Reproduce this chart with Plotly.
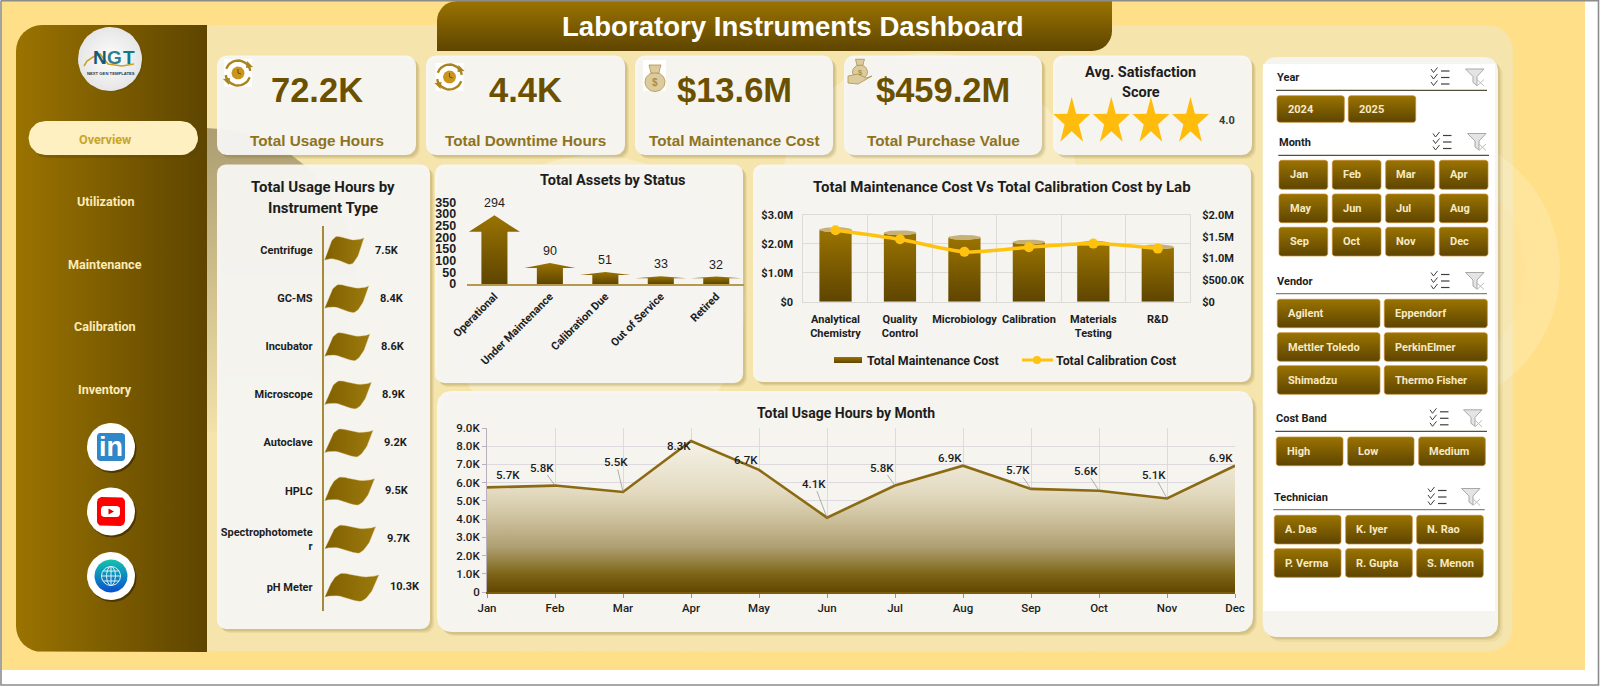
import math
import plotly.graph_objects as go

# ---- data ----
instrument_types = ["Centrifuge", "GC-MS", "Incubator", "Microscope", "Autoclave", "HPLC",
                    "Spectrophotomete<br>r", "pH Meter"]
usage_by_type = [7500, 8400, 8600, 8900, 9200, 9500, 9700, 10300]

asset_status = ["Operational", "Under Maintenance", "Calibration Due", "Out of Service", "Retired"]
asset_counts = [294, 90, 51, 33, 32]

labs = ["Analytical<br>Chemistry", "Quality<br>Control", "Microbiology", "Calibration",
        "Materials<br>Testing", "R&D"]
maintenance_cost = [2580000, 2470000, 2310000, 2150000, 2110000, 1980000]
calibration_cost = [1650000, 1440000, 1150000, 1255000, 1340000, 1225000]

months = ["Jan", "Feb", "Mar", "Apr", "May", "Jun", "Jul", "Aug", "Sep", "Oct", "Nov", "Dec"]
monthly_usage = [5740, 5840, 5490, 8290, 6700, 4080, 5840, 6930, 5660, 5560, 5130, 6930]

kpi_values = ["72.2K", "4.4K", "$13.6M", "$459.2M"]
kpi_names = ["Total Usage Hours", "Total Downtime Hours", "Total Maintenance Cost", "Total Purchase Value"]
satisfaction_score = 4.0

nav_items = ["Overview", "Utilization", "Maintenance", "Calibration", "Inventory"]
slicer_years = ["2024", "2025"]
slicer_vendors = ["Agilent", "Eppendorf", "Mettler Toledo", "PerkinElmer", "Shimadzu", "Thermo Fisher"]
slicer_bands = ["High", "Low", "Medium"]
slicer_techs = ["A. Das", "K. Iyer", "N. Rao", "P. Verma", "R. Gupta", "S. Menon"]

# ---- styling ----
W, H = 1600, 686
GOLD_TOP, GOLD_BOT = "#9A7300", "#5E4500"
SANS = "Roboto"
ARIAL = "Liberation Sans"
CARD = "rgba(247,247,244,0.95)"
INK = "#1d1d1d"
GRID = "#DCDBD6"

fig = go.Figure()
notes = []


def xdom(a, b):
    return [a / W, b / W]


def ydom(top, bottom):
    return [1 - bottom / H, 1 - top / H]


def rounded(x0, y0, x1, y1, r, corners=(1, 1, 1, 1)):
    """Outline of a rectangle; corners are top-left, top-right, bottom-right, bottom-left."""
    rad = [r * c for c in corners]
    centres = [(x0 + rad[0], y0 + rad[0], 180), (x1 - rad[1], y0 + rad[1], 270),
               (x1 - rad[2], y1 - rad[2], 0), (x0 + rad[3], y1 - rad[3], 90)]
    xs, ys = [], []
    for (cx, cy, start), rr in zip(centres, rad):
        steps = 8 if rr else 0
        for k in range(steps + 1):
            a = math.radians(start + 90 * k / max(steps, 1))
            xs.append(cx + rr * math.cos(a))
            ys.append(cy + rr * math.sin(a))
    return xs + xs[:1], ys + ys[:1]


def circle(cx, cy, r, ry=None, n=48):
    ry = r if ry is None else ry
    pts = [2 * math.pi * k / n for k in range(n + 1)]
    return [cx + r * math.cos(a) for a in pts], [cy + ry * math.sin(a) for a in pts]


def poly(xs, ys, color=None, grad=None, line=None, lw=0, axes=("x", "y"), name=None):
    spec = dict(x=xs, y=ys, mode="lines", fill="toself", hoverinfo="skip",
                line=dict(width=lw, color=line or "rgba(0,0,0,0)"), xaxis=axes[0], yaxis=axes[1])
    if grad:
        kind, c0, c1 = grad
        spec["fillgradient"] = dict(type=kind, colorscale=[[0, c0], [1, c1]])
        spec["fillcolor"] = "rgba(0,0,0,0)"
    else:
        spec["fillcolor"] = color
    if name:
        spec["name"] = name
    fig.add_trace(go.Scatter(**spec))


def stroke(xs, ys, color, lw=1.0):
    fig.add_trace(go.Scatter(x=xs, y=ys, mode="lines", hoverinfo="skip",
                             line=dict(width=lw, color=color), xaxis="x", yaxis="y"))


def text(x, y, s, size, color=INK, family=SANS, weight=700, anchor="center"):
    notes.append(dict(x=x, y=y, xref="x", yref="y", text=s, showarrow=False, xanchor=anchor,
                      yanchor="middle", borderpad=0, align=anchor,
                      font=dict(size=size, color=color, family=family, weight=weight)))


def soft_card(x0, y0, x1, y1, r=9, fill=CARD):
    for off, alpha in ((4, 0.07), (3, 0.09), (2, 0.12)):
        xs, ys = rounded(x0 + off, y0 + off, x1 + off, y1 + off, r)
        poly(xs, ys, f"rgba(120,95,30,{alpha})")
    xs, ys = rounded(x0, y0, x1, y1, r)
    poly(xs, ys, fill)


# ---- page background ----
poly([2, 1585, 1585, 2, 2], [1, 1, 670, 670, 1], "#FFDF87")
xs, ys = rounded(190, 25, 1513, 652, 26)
poly(xs, ys, "#F5E4AB")

# soft decorative discs behind the cards
xs, ys = circle(205, 280, 152, n=96)
poly(xs, ys, grad=("vertical", "rgba(85,75,45,0.02)", "rgba(85,75,45,0.46)"))
for cx, cy, r, col in ((595, 305, 150, "rgba(255,255,255,0.30)"),
                       (930, 205, 152, "rgba(255,255,255,0.28)"),
                       (1420, 270, 140, "rgba(255,255,255,0.18)"),
                       (1420, 270, 106, "rgba(255,223,135,0.12)")):
    xs, ys = circle(cx, cy, r, n=96)
    poly(xs, ys, col)

# ---- side navigation ----
xs, ys = rounded(16, 25, 207, 652, 26, (1, 0, 0, 1))
poly(xs, ys, grad=("horizontal", GOLD_TOP, GOLD_BOT))

xs, ys = circle(112, 60, 32)
poly(xs, ys, "rgba(90,70,10,0.25)")
xs, ys = circle(110, 59, 32)
poly(xs, ys, grad=("radial", "#FDFDFD", "#E6E6E6"))
stroke([84, 87, 93, 100, 108, 122, 134], [66, 61, 57, 54, 64, 66, 64], "#C9A227", 1.6)
for lx, letter, col in ((99.5, "N", "#145A78"), (114.5, "G", "#2F7F8F"), (128.5, "T", "#12798B")):
    text(lx, 57, letter, 19, col, ARIAL)
text(111, 73.5, "NEXT GEN TEMPLATES", 4.2, "#1F3A4D", ARIAL)

xs, ys = rounded(31, 123, 201, 158, 17)
poly(xs, ys, "rgba(90,70,10,0.35)")
xs, ys = rounded(28.5, 121, 198, 155, 17)
poly(xs, ys, "#FEF0C0")
for label, ny, col in zip(nav_items, (139, 201, 264, 326, 389),
                          ("#C8A42C", "#FBEBB8", "#FBEBB8", "#FBEBB8", "#FBEBB8")):
    text(105, ny, label, 12.6, col)

# social buttons
for cy in (447, 511.5, 576):
    xs, ys = circle(112.5, cy + 2, 24)
    poly(xs, ys, "rgba(40,28,0,0.55)")
    xs, ys = circle(111, cy, 24)
    poly(xs, ys, "#FFFFFF")
xs, ys = rounded(97, 433, 125, 461, 3)
poly(xs, ys, "#2F86C8")
text(111, 447, "in", 27, "#FFFFFF", ARIAL)
xs, ys = rounded(97, 497, 125, 526, 5)
poly(xs, ys, "#FF0000")
xs, ys = rounded(101, 506, 120, 517, 3)
poly(xs, ys, "#FFFFFF")
poly([108.5, 114, 108.5, 108.5], [508.5, 511.5, 514.5, 508.5], "#E00000")
xs, ys = circle(111, 576, 16.5)
poly(xs, ys, grad=("vertical", "#0A50CF", "#13C3AE"))
xs, ys = circle(111, 576, 9.5)
stroke(xs, ys, "#D9F3F5", 1)
xs, ys = circle(111, 576, 4.5, 9.5)
stroke(xs, ys, "#D9F3F5", 1)
stroke([111, 111], [566.5, 585.5], "#D9F3F5", 1)
stroke([101.5, 120.5], [576, 576], "#D9F3F5", 1)
stroke([103, 119], [571, 571], "#D9F3F5", 1)
stroke([103, 119], [581, 581], "#D9F3F5", 1)

# ---- title banner ----
xs, ys = rounded(437, 1, 1112, 51, 20, (1, 0, 1, 0))
poly(xs, ys, grad=("vertical", GOLD_BOT, GOLD_TOP))
text(793, 26, "Laboratory Instruments Dashboard", 27.6, "#FFFFFF", ARIAL)


# ---- KPI cards ----
def refresh_icon(cx, cy):
    poly([cx - 14, cx + 14, cx + 14, cx - 14, cx - 14], [cy - 14, cy - 14, cy + 14, cy + 14, cy - 14], "#FFFFFF")
    for start in (200, 20):
        pts = [math.radians(start + 150 * k / 16) for k in range(17)]
        stroke([cx + 12.5 * math.cos(a) for a in pts], [cy + 12.5 * math.sin(a) for a in pts], "#A9851F", 2.4)
    poly([cx + 9, cx + 15, cx + 8, cx + 9], [cy - 12, cy - 6, cy - 5, cy - 12], "#A9851F")
    poly([cx - 9, cx - 15, cx - 8, cx - 9], [cy + 12, cy + 6, cy + 5, cy + 12], "#A9851F")
    xs_, ys_ = circle(cx, cy, 6.5)
    poly(xs_, ys_, "#C8951E")
    stroke([cx, cx, cx + 3], [cy - 4, cy, cy + 1], "#6B4F00", 1)


def bag_icon(cx, cy, scale=1.0, fill="#DCCB9F"):
    xs_, ys_ = circle(cx, cy + 4 * scale, 10 * scale, 9.5 * scale)
    poly(xs_, ys_, fill, line="#AD9447", lw=0.8)
    poly([cx - 4 * scale, cx + 4 * scale, cx + 5 * scale, cx + 6 * scale, cx - 6 * scale, cx - 5 * scale, cx - 4 * scale],
         [cy - 5 * scale, cy - 5 * scale, cy - 10 * scale, cy - 13 * scale, cy - 13 * scale, cy - 10 * scale, cy - 5 * scale],
         fill, line="#AD9447", lw=0.8)
    text(cx, cy + 4 * scale, "$", 10 * scale, "#A88F4A", ARIAL)


card_bounds = [(217, 416), (426, 625), (635, 833), (844, 1042), (1053, 1252)]
for (x0, x1) in card_bounds:
    soft_card(x0, 55.5, x1, 155, 10)
for (x0, x1), value, name in zip(card_bounds, kpi_values, kpi_names):
    text((x0 + x1) / 2, 90, value, 34.5, "#6B5000", ARIAL)
    text((x0 + x1) / 2, 140, name, 15.3, "#8F7320", ARIAL)
refresh_icon(238, 73)
refresh_icon(449.5, 77)
poly([643, 666, 666, 643, 643], [60, 60, 91, 91, 60], "#FFFFFF")
bag_icon(655, 78)
bag_icon(860, 69, 0.75)
poly([848, 858, 866, 872, 858, 848, 848], [76, 74, 78, 76, 84, 83, 76], "#DCCB9F", line="#AD9447", lw=0.8)

text(1140.5, 72, "Avg. Satisfaction", 14.5)
text(1140.5, 92.5, "Score", 14.5)
star_xs, star_ys = [], []
for k in range(int(satisfaction_score)):
    cx, cy = 1071.7 + 39.6 * k, 121.6
    for j in range(11):
        r = 24.9 if j % 2 == 0 else 9.6
        a = math.radians(-90 + 36 * j)
        star_xs.append(cx + 0.78 * r * math.cos(a))
        star_ys.append(cy + r * math.sin(a))
    star_xs.append(None)
    star_ys.append(None)
poly(star_xs, star_ys, "#FFBC0D")
text(1226.5, 120, f"{satisfaction_score:.1f}", 11, "#3A3A3A")

# ---- chart cards ----
soft_card(217, 164.5, 430, 629, 9)
soft_card(435, 164.5, 743, 383, 9)
soft_card(753, 164.5, 1251, 382, 9)
soft_card(437, 391, 1253, 632, 14)

text(323, 187, "Total Usage Hours by", 15)
text(323, 208, "Instrument Type", 15)
text(612.5, 180, "Total Assets by Status", 14.5)
text(1002, 187, "Total Maintenance Cost Vs Total Calibration Cost by Lab", 15)
text(846, 413, "Total Usage Hours by Month", 14)

# legend of the lab chart
xs, ys = rounded(834, 357, 862, 363, 0, (0, 0, 0, 0))
poly(xs, ys, grad=("vertical", GOLD_BOT, GOLD_TOP))
text(866, 360, "Total Maintenance Cost", 12.4, anchor="left")
stroke([1022, 1053], [360, 360], "#FFC20E", 3)
fig.add_trace(go.Scatter(x=[1037], y=[360], mode="markers", hoverinfo="skip", xaxis="x", yaxis="y",
                         marker=dict(size=8, color="#FFC20E")))
text(1055, 360, "Total Calibration Cost", 12.4, anchor="left")

# ---- slicer panel ----
xs, ys = rounded(1262.7, 57, 1498, 637, 13)
for off, alpha in ((5, 0.06), (3, 0.09), (2, 0.12)):
    poly([v + off for v in xs], [v + off for v in ys], f"rgba(120,95,30,{alpha})")
poly(xs, ys, "#F5F4EE")
poly([1263, 1495, 1495, 1263, 1263], [64, 64, 611, 611, 64], "#FFFFFF")


def list_icon(cx, cy):
    for dy in (-6.5, 0, 6.5):
        stroke([cx - 9, cx - 6.5, cx - 2.5], [cy + dy - 2, cy + dy + 1.5, cy + dy - 3.5], "#3F3F3F", 1)
        stroke([cx + 1, cx + 9.5], [cy + dy, cy + dy], "#3F3F3F", 1.2)


def filter_icon(cx, cy):
    poly([cx - 9.5, cx + 9, cx + 2, cx + 2, cx - 2, cx - 2, cx - 9.5],
         [cy - 8.5, cy - 8.5, cy - 1, cy + 8, cy + 5, cy - 1, cy - 8.5],
         "#E4E4E4", line="#A8A8A8", lw=1)
    stroke([cx + 2, cx + 9], [cy + 2, cy + 8.5], "#BDBDBD", 1)
    stroke([cx + 9, cx + 2], [cy + 2, cy + 8.5], "#BDBDBD", 1)


def slicer_header(label, x0, x1, y_text, y_rule, icon_a, icon_b, rule="#55503F"):
    text(x0, y_text, label, 11, INK, anchor="left")
    stroke([x0, x1], [y_rule, y_rule], rule, 1.2)
    list_icon(icon_a, y_text)
    filter_icon(icon_b, y_text)


def slicer_button(label, x0, y0, x1, y1):
    xs_, ys_ = rounded(x0, y0, x1, y1, 2.5)
    poly(xs_, ys_, grad=("vertical", GOLD_BOT, GOLD_TOP), line="#C58A2E", lw=0.7)
    text(x0 + 9.7, (y0 + y1) / 2, label, 11, "#F7E9C5", anchor="left")


slicer_header("Year", 1276, 1487, 77.5, 90.3, 1440, 1475)
for label, (x0, x1) in zip(slicer_years, ((1277, 1344.3), (1348.3, 1415.7))):
    slicer_button(label, x0, 95.7, x1, 122.3)

slicer_header("Month", 1278.3, 1489, 142, 155.3, 1442, 1477)
month_cols = ((1279, 1327.7), (1332.3, 1381), (1385.7, 1434.7), (1439.3, 1488))
month_rows = ((160.3, 189.3), (194, 222.7), (227.3, 256))
for k, label in enumerate(months):
    x0, x1 = month_cols[k % 4]
    y0, y1 = month_rows[k // 4]
    slicer_button(label, x0, y0, x1, y1)

slicer_header("Vendor", 1276, 1487, 281, 293.7, 1440, 1475, "#8A857A")
vendor_rows = ((299.3, 327.7), (332.7, 361.3), (365.7, 394.3))
for k, label in enumerate(slicer_vendors):
    x0, x1 = ((1277.3, 1380), (1384.3, 1487.3))[k % 2]
    y0, y1 = vendor_rows[k // 2]
    slicer_button(label, x0, y0, x1, y1)

slicer_header("Cost Band", 1275.3, 1487, 418.3, 431.3, 1439, 1473)
for label, (x0, x1) in zip(slicer_bands, ((1276.3, 1343), (1347.7, 1414), (1418.7, 1485.3))):
    slicer_button(label, x0, 437, x1, 465.7)

slicer_header("Technician", 1273.3, 1484.7, 497, 509.7, 1437, 1471, "#8A857A")
tech_rows = ((515.3, 544), (548.7, 577.3))
for k, label in enumerate(slicer_techs):
    x0, x1 = ((1274.3, 1341), (1345.7, 1412.3), (1416.7, 1483.3))[k % 3]
    y0, y1 = tech_rows[k // 3]
    slicer_button(label, x0, y0, x1, y1)

# outer frame of the page
stroke([1, 1598.5, 1598.5, 1, 1], [0.6, 0.6, 685, 685, 0.6], "#8C8C8C", 1.6)


# ---- usage by instrument: wave-shaped flags on a pole ----
def cubic(p0, p1, p2, p3, n=14):
    pts = []
    for k in range(n):
        t = k / n
        m = 1 - t
        pts.append((m ** 3 * p0[0] + 3 * m * m * t * p1[0] + 3 * m * t * t * p2[0] + t ** 3 * p3[0],
                    m ** 3 * p0[1] + 3 * m * m * t * p1[1] + 3 * m * t * t * p2[1] + t ** 3 * p3[1]))
    return pts


ROW_PX = 48.1
flag_outline = (cubic((0.02, 10), (0.08, 4), (0.14, -8), (0.24, -11))
                + cubic((0.24, -11), (0.36, -19), (0.62, -5), (1.0, -12))
                + cubic((1.0, -12), (0.93, -2), (0.88, 6), (0.75, 12))
                + cubic((0.75, 12), (0.62, 20), (0.36, 4), (0.02, 10)))
for row, value in enumerate(usage_by_type):
    fx = [u * value for u, _ in flag_outline]
    fy = [row + v / ROW_PX for _, v in flag_outline]
    poly(fx + fx[:1], fy + fy[:1], grad=("horizontal", "#806000", "#9C7A0E"),
         line="rgba(205,175,90,0.6)", lw=0.6, axes=("x2", "y2"), name=instrument_types[row])
    notes.append(dict(x=value, y=row, xref="x2", yref="y2", text=f"{value / 1000:.1f}K", showarrow=False,
                      xanchor="left", yanchor="middle", xshift=10, borderpad=0,
                      font=dict(size=11, color=INK, family=SANS, weight=700)))

# ---- assets by status: block arrows ----
for pos, count in enumerate(asset_counts):
    shaft, head = 0.235, 0.46
    neck = count * 0.76
    ax = [pos - shaft, pos - shaft, pos - head, pos, pos + head, pos + shaft, pos + shaft, pos - shaft]
    ay = [0, neck, neck, count, neck, neck, 0, 0]
    poly(ax, ay, grad=("vertical", GOLD_BOT, GOLD_TOP), axes=("x3", "y3"))
    notes.append(dict(x=pos, y=count, xref="x3", yref="y3", text=str(count), showarrow=False, yanchor="bottom",
                      yshift=4, borderpad=0, font=dict(size=12.5, color=INK, family=ARIAL, weight=400)))

# ---- maintenance vs calibration by lab ----
CAP = 86000
half = 0.25
for pos, cost in enumerate(maintenance_cost):
    arc = [math.pi * k / 20 for k in range(21)]
    bx = [pos - half, pos - half] + [pos - half * math.cos(a) for a in arc] + [pos + half, pos - half]
    by = [0, cost - CAP] + [cost - CAP - CAP * math.sin(a) * 0.9 for a in arc] + [0, 0]
    poly(bx, by, grad=("vertical", GOLD_BOT, GOLD_TOP), axes=("x4", "y4"))
    cx_, cy_ = circle(pos, cost - CAP, half, CAP)
    poly(cx_, cy_, "#C6B178", axes=("x4", "y4"))
fig.add_trace(go.Scatter(x=list(range(len(labs))), y=calibration_cost, mode="lines+markers", xaxis="x4", yaxis="y5",
                         name="Total Calibration Cost", line=dict(color="#FFC20E", width=3.5, shape="spline", smoothing=0.7),
                         marker=dict(size=10, color="#FFC20E")))

# ---- usage by month ----
usage_fill = [[0, "#614600"], [0.12, "#7E6618"], [0.3, "#AFA072"], [0.5, "#CFC39F"], [0.66, "#E3DAC0"], [1, "#F5F3E8"]]
fig.add_trace(go.Scatter(x=list(range(12)), y=monthly_usage, mode="lines", xaxis="x5", yaxis="y6", name="Total Usage Hours",
                         fill="tozeroy", fillgradient=dict(type="vertical", colorscale=usage_fill),
                         fillcolor="rgba(0,0,0,0)", line=dict(color="#8B6A14", width=2.6)))
label_offsets = [(21, -12, 0), (-13, -18, 1), (-7, -30, 1), (-12, 5, 0), (-13, -10, 0), (-13, -34, 1),
                 (-13, -18, 1), (-13, -8, 0), (-13, -19, 1), (-13, -20, 1), (-13, -24, 1), (-14, -8, 0)]
for pos, (usage, (dx, dy, leader)) in enumerate(zip(monthly_usage, label_offsets)):
    notes.append(dict(x=pos, y=usage, xref="x5", yref="y6", text=f"{usage / 1000:.1f}K", showarrow=True, arrowhead=0,
                      arrowwidth=0.7, arrowcolor="#8E8E8E" if leader else "rgba(0,0,0,0)", ax=dx, ay=dy, standoff=0,
                      borderpad=0, font=dict(size=11.5, color=INK, family=SANS, weight=500)))

# ---- axes ----
hidden = dict(visible=False, fixedrange=True, automargin=False)
label_font = dict(size=11, color=INK, family=SANS, weight=700)
clear_tick = "rgba(0,0,0,0)"
fig.update_layout(
    width=W, height=H, margin=dict(l=0, r=0, t=0, b=0), autosize=False, showlegend=False,
    paper_bgcolor="#FFFFFF", plot_bgcolor="rgba(0,0,0,0)", annotations=notes,
    xaxis=dict(hidden, range=[0, W], domain=[0, 1]),
    yaxis=dict(hidden, range=[H, 0], domain=[0, 1]),
    xaxis2=dict(hidden, range=[0, 20000], domain=xdom(323.8, 430.5), anchor="y2"),
    yaxis2=dict(automargin=False, range=[7.5, -0.5], domain=ydom(226, 611), anchor="x2", tickmode="array",
                tickvals=list(range(8)), ticktext=instrument_types, ticks="outside", ticklen=7,
                tickcolor=clear_tick, showgrid=False, zeroline=False, showline=True, linecolor="#A58A3E",
                linewidth=2, tickfont=label_font),
    xaxis3=dict(automargin=False, range=[-0.5, 4.5], domain=xdom(466.7, 744), anchor="y3", tickmode="array",
                tickvals=list(range(5)), ticktext=asset_status, tickangle=-45, showgrid=False, zeroline=False,
                showline=True, linecolor="#B59A4B", linewidth=1.5, ticks="", tickfont=label_font),
    yaxis3=dict(automargin=False, range=[0, 350], domain=ydom(202.3, 284), anchor="x3", tickmode="array",
                tickvals=list(range(0, 351, 50)), showgrid=False, zeroline=False, showline=False,
                ticks="outside", ticklen=7, tickcolor=clear_tick,
                tickfont=dict(size=12.5, color=INK, family=ARIAL, weight=700)),
    xaxis4=dict(automargin=False, range=[-0.5, 5.5], domain=xdom(803.3, 1190), anchor="y4", tickmode="array",
                tickvals=list(range(6)), ticktext=labs, tickangle=0, showgrid=False, zeroline=False, showline=True,
                linecolor=GRID, mirror=True, ticks="outside", ticklen=7, tickcolor=clear_tick,
                minor=dict(tickmode="array", tickvals=[0.5, 1.5, 2.5, 3.5, 4.5], showgrid=True, gridcolor=GRID, ticks=""),
                tickfont=label_font),
    yaxis4=dict(automargin=False, range=[0, 3000000], domain=ydom(215, 301.7), anchor="x4", tickmode="array",
                tickvals=[0, 1000000, 2000000, 3000000], ticktext=["$0", "$1.0M", "$2.0M", "$3.0M"],
                showline=True, linecolor=GRID, mirror=True,
                showgrid=True, gridcolor=GRID, zeroline=False, ticks="outside", ticklen=7, tickcolor=clear_tick,
                tickfont=dict(size=11, color=INK, family=SANS, weight=700)),
    yaxis5=dict(automargin=False, range=[0, 2000000], domain=ydom(215, 301.7), anchor="x4", overlaying="y4", side="right",
                tickmode="array", tickvals=[0, 500000, 1000000, 1500000, 2000000],
                ticktext=["$0", "$500.0K", "$1.0M", "$1.5M", "$2.0M"], showgrid=False, zeroline=False,
                ticks="outside", ticklen=9, tickcolor=clear_tick,
                tickfont=dict(size=11, color=INK, family=SANS, weight=700)),
    xaxis5=dict(automargin=False, range=[0, 11], domain=xdom(487, 1235), anchor="y6", tickmode="array",
                tickvals=list(range(12)), ticktext=months, tickangle=0, showgrid=True, gridcolor="#DDD9DF", zeroline=False,
                showline=True, linecolor="#7A5C0C", linewidth=1.5, ticks="outside", ticklen=4, tickcolor="#9B8FA0",
                tickfont=dict(size=11.5, color=INK, family=SANS, weight=500)),
    yaxis6=dict(automargin=False, range=[0, 9000], domain=ydom(428, 592), anchor="x5", tickmode="array",
                tickvals=list(range(0, 9001, 1000)),
                ticktext=["0"] + [f"{k}.0K" for k in range(1, 10)], showgrid=True, gridcolor="#DDD9DF", zeroline=False,
                showline=True, linecolor="#B9AFC0", ticks="outside", ticklen=4, tickcolor="#B9AFC0",
                tickfont=dict(size=11.5, color=INK, family=SANS, weight=500)),
)

fig.write_html("out.html", config=dict(displayModeBar=False))
